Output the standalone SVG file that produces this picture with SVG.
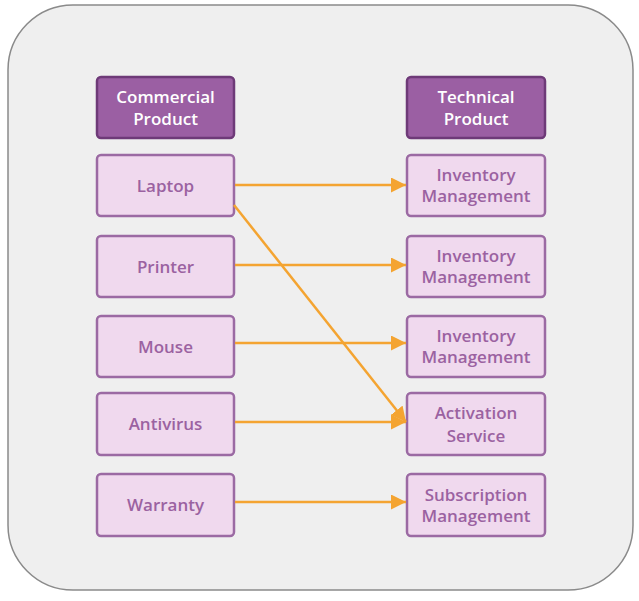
<svg xmlns="http://www.w3.org/2000/svg" width="639" height="601" viewBox="0 0 639 601">
<style>
.hd{fill:#9b5fa3;stroke:#6e3a78;stroke-width:2.5}
.nd{fill:#f0d9ee;stroke:#9b6aa3;stroke-width:2.5}
.ht{font-family:"Open Sans",sans-serif;font-size:17px;font-weight:600;fill:#fff;text-anchor:middle}
.nt{font-family:"Open Sans",sans-serif;font-size:17px;font-weight:600;fill:#9b62a1;text-anchor:middle}
.c{stroke:#f4a431;stroke-width:2.5;fill:none;marker-end:url(#a)}
</style>
<defs><marker id="a" viewBox="0 0 10 10" refX="10" refY="5" markerWidth="6" markerHeight="6" orient="auto" markerUnits="strokeWidth"><path d="M0,0L10,5L0,10z" fill="#f4a431"/></marker></defs>
<rect x="8" y="5" width="625" height="585" rx="65" fill="#efefef" stroke="#8a8a8a" stroke-width="1.5"/>
<g id="h1"><rect class="hd" x="97" y="77" width="137" height="61" rx="4"/><text class="ht" x="165.5" y="103">Commercial</text><text class="ht" x="165.5" y="125">Product</text></g>
<g id="h2"><rect class="hd" x="407" y="77" width="138" height="61" rx="4"/><text class="ht" x="476" y="103">Technical</text><text class="ht" x="476" y="125">Product</text></g>
<g id="laptop"><rect class="nd" x="97" y="155" width="137" height="61" rx="4"/><text class="nt" x="165.5" y="192">Laptop</text></g>
<g id="printer"><rect class="nd" x="97" y="236" width="137" height="61" rx="4"/><text class="nt" x="165.5" y="273">Printer</text></g>
<g id="mouse"><rect class="nd" x="97" y="316" width="137" height="61" rx="4"/><text class="nt" x="165.5" y="353">Mouse</text></g>
<g id="antivirus"><rect class="nd" x="97" y="393" width="137" height="62" rx="4"/><text class="nt" x="165.5" y="430">Antivirus</text></g>
<g id="warranty"><rect class="nd" x="97" y="474" width="137" height="62" rx="4"/><text class="nt" x="165.5" y="511">Warranty</text></g>
<g id="inv1"><rect class="nd" x="407" y="155" width="138" height="61" rx="4"/><text class="nt" x="476" y="181">Inventory</text><text class="nt" x="476" y="202">Management</text></g>
<g id="inv2"><rect class="nd" x="407" y="236" width="138" height="61" rx="4"/><text class="nt" x="476" y="262">Inventory</text><text class="nt" x="476" y="283">Management</text></g>
<g id="inv3"><rect class="nd" x="407" y="316" width="138" height="61" rx="4"/><text class="nt" x="476" y="342">Inventory</text><text class="nt" x="476" y="363">Management</text></g>
<g id="act"><rect class="nd" x="407" y="393" width="138" height="62" rx="4"/><text class="nt" x="476" y="419">Activation</text><text class="nt" x="476" y="442">Service</text></g>
<g id="sub"><rect class="nd" x="407" y="474" width="138" height="62" rx="4"/><text class="nt" x="476" y="501">Subscription</text><text class="nt" x="476" y="522">Management</text></g>
<g id="connectors">
<line class="c" x1="235" y1="185" x2="406" y2="185"/>
<line class="c" x1="234" y1="205" x2="406" y2="422"/>
<line class="c" x1="235" y1="265" x2="406" y2="265"/>
<line class="c" x1="235" y1="343" x2="406" y2="343"/>
<line class="c" x1="235" y1="422" x2="406" y2="422"/>
<line class="c" x1="235" y1="502" x2="406" y2="502"/>
</g>
</svg>
